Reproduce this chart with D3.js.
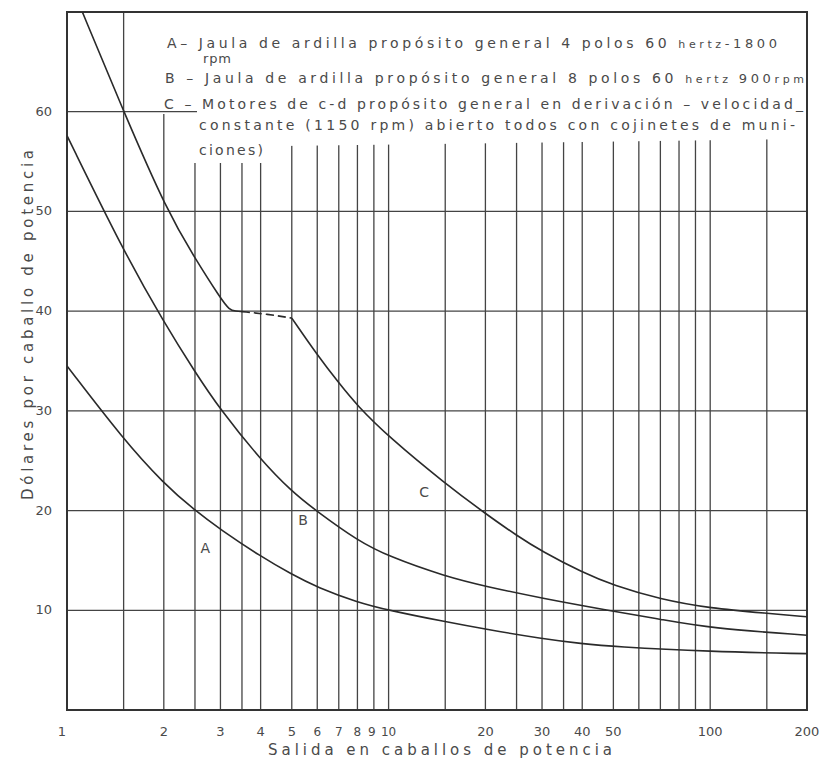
<!DOCTYPE html>
<html lang="es">
<head>
  <meta charset="UTF-8">
  <title>Costo de motores</title>
  <script src="https://d3js.org/d3.v7.min.js"></script>
  <style>
    * { margin: 0; padding: 0; box-sizing: border-box; }
    body { background: #fff; font-family: "DejaVu Sans", Arial, sans-serif; }
    .lbl { fill: #4a4a4a; font-family: "DejaVu Sans", sans-serif; }
  </style>
</head>
<body>
  <div id="chart"></div>
  <script>
    // curvas: [hp, dolares por hp]
    const curvaA = [[1, 34.5], [1.5, 27.1], [2, 22.7], [2.5, 20], [3, 18.1], [4, 15.4], [5, 13.6],
      [6, 12.3], [8, 10.8], [10, 10], [15, 8.85], [20, 8.1], [30, 7.15], [40, 6.65], [50, 6.35],
      [100, 5.85], [200, 5.65]];
    const curvaB = [[1, 57.6], [1.5, 46], [2, 38.9], [2.5, 33.9], [3, 30.1], [4, 25.1], [5, 21.9],
      [6, 19.9], [8, 17.0], [10, 15.4], [15, 13.4], [20, 12.4], [30, 11.2], [50, 9.9], [70, 9.1],
      [100, 8.2], [200, 7.5]];
    const curvaC1 = [[1.1, 70.5], [1.5, 60], [2.05, 50], [2.5, 45.3], [3, 41.3], [3.2, 40.1], [3.35, 40], [3.5, 39.95]];
    const curvaC2 = [[3.5, 39.95], [4.2, 39.7], [5, 39.3]];
    const curvaC3 = [[5, 39.3], [6, 35.6], [7, 32.8], [8, 30.5], [10, 27.4], [15, 22.7], [20, 19.7],
      [25, 17.5], [30, 15.9], [40, 13.8], [50, 12.5], [70, 11.1], [100, 10.2], [150, 9.7], [200, 9.35]];

    const gridX = [1.5, 2, 2.5, 3, 3.5, 4, 5, 6, 7, 8, 9, 10, 15, 20, 25, 30, 35, 40, 50, 60, 70, 80, 90, 100, 150];
    const ticksX = [1, 2, 3, 4, 5, 6, 7, 8, 9, 10, 20, 30, 40, 50, 100, 200];
    const ticksY = [10, 20, 30, 40, 50, 60];

    const etiquetas = [
      {t: "A", hp: 2.69, v: 15.7},
      {t: "B", hp: 5.42, v: 18.6},
      {t: "C", hp: 12.9, v: 21.4}
    ];

    const W = 824, H = 761;
    const svg = d3.select("#chart").append("svg").attr("width", W).attr("height", H);

    const x = d3.scaleLog().domain([1, 200]).range([67, 807]);
    const y = d3.scaleLinear().domain([0, 70]).range([710, 12]);

    svg.append("defs").append("clipPath").attr("id", "area")
      .append("rect").attr("x", 67).attr("y", 12).attr("width", 740).attr("height", 698);

    // rejilla
    svg.append("g").selectAll("line").data(gridX).enter().append("line")
      .attr("x1", d => x(d)).attr("x2", d => x(d))
      .attr("y1", y(70)).attr("y2", y(0))
      .attr("stroke", "#444").attr("stroke-width", 1.3);

    svg.append("g").selectAll("line").data(ticksY).enter().append("line")
      .attr("x1", x(1)).attr("x2", x(200))
      .attr("y1", d => y(d)).attr("y2", d => y(d))
      .attr("stroke", "#444").attr("stroke-width", 1.3);

    // fondo blanco de la leyenda
    svg.append("path")
      .attr("d", "M158,13 L806,13 L806,139 L282,146 L276,163 L181,163 L181,114 L158,114 Z")
      .attr("fill", "#fff");

    // subrayado de "C -"
    svg.append("line")
      .attr("x1", 158).attr("x2", 197).attr("y1", y(60)).attr("y2", y(60))
      .attr("stroke", "#444").attr("stroke-width", 1.3);

    // marco
    svg.append("rect")
      .attr("x", x(1)).attr("y", y(70))
      .attr("width", x(200) - x(1)).attr("height", y(0) - y(70))
      .attr("fill", "none").attr("stroke", "#333").attr("stroke-width", 2);

    // curvas
    const line = d3.line().x(d => x(d[0])).y(d => y(d[1])).curve(d3.curveBasis);
    const g = svg.append("g").attr("clip-path", "url(#area)");
    [curvaA, curvaB, curvaC1, curvaC3].forEach(c => {
      g.append("path").attr("d", line(c))
        .attr("fill", "none").attr("stroke", "#2a2a2a").attr("stroke-width", 1.6);
    });
    g.append("path").attr("d", line(curvaC2))
      .attr("fill", "none").attr("stroke", "#2a2a2a").attr("stroke-width", 1.6)
      .attr("stroke-dasharray", "8,4");

    svg.selectAll(".et").data(etiquetas).enter().append("text")
      .attr("class", "lbl")
      .attr("x", d => x(d.hp)).attr("y", d => y(d.v))
      .attr("text-anchor", "middle")
      .style("font-size", "14px")
      .text(d => d.t);

    // ejes
    svg.append("g").selectAll("text").data(ticksY).enter().append("text")
      .attr("class", "lbl")
      .attr("x", 52).attr("y", d => y(d) + 4)
      .attr("text-anchor", "end")
      .style("font-size", "13px")
      .text(d => d);

    svg.append("g").selectAll("text").data(ticksX).enter().append("text")
      .attr("class", "lbl")
      .attr("x", d => d === 1 ? x(d) - 5 : d === 9 ? x(d) - 2 : x(d))
      .attr("y", 736)
      .attr("text-anchor", "middle")
      .style("font-size", d => d >= 6 && d <= 10 ? "12px" : "13px")
      .text(d => d);

    svg.append("text").attr("class", "lbl")
      .attr("x", 440).attr("y", 755).attr("text-anchor", "middle")
      .attr("textLength", 344).attr("lengthAdjust", "spacing")
      .style("font-size", "15px")
      .text("Salida en caballos de potencia");

    svg.append("text").attr("class", "lbl")
      .attr("transform", "translate(33,325) rotate(-90)")
      .attr("text-anchor", "middle")
      .attr("textLength", 350).attr("lengthAdjust", "spacing")
      .style("font-size", "15px")
      .text("Dólares por caballo de potencia");

    // leyenda
    const leyenda = [
      {x: 167, y: 48, w: 610, parts: [["A– Jaula de ardilla propósito general 4 polos 60 ", 14], ["hertz", 11], ["-1800", 13]]},
      {x: 203, y: 63, w: 28, parts: [["rpm", 13]]},
      {x: 165, y: 83, w: 639, parts: [["B – Jaula de ardilla propósito general 8 polos 60 ", 14], ["hertz ", 11], ["900", 13], ["rpm", 11]]},
      {x: 164, y: 109, w: 639, parts: [["C – Motores de c-d  propósito general  en derivación – velocidad_", 14]]},
      {x: 199, y: 130, w: 596, parts: [["constante (1150 rpm)  abierto  todos  con cojinetes  de muni-", 14]]},
      {x: 199, y: 155, w: 64, parts: [["ciones)", 14]]}
    ];
    leyenda.forEach(l => {
      const t = svg.append("text").attr("class", "lbl")
        .attr("x", l.x).attr("y", l.y)
        .attr("textLength", l.w).attr("lengthAdjust", "spacing");
      l.parts.forEach(p => t.append("tspan").style("font-size", p[1] + "px").text(p[0]));
    });
  </script>
</body>
</html>
